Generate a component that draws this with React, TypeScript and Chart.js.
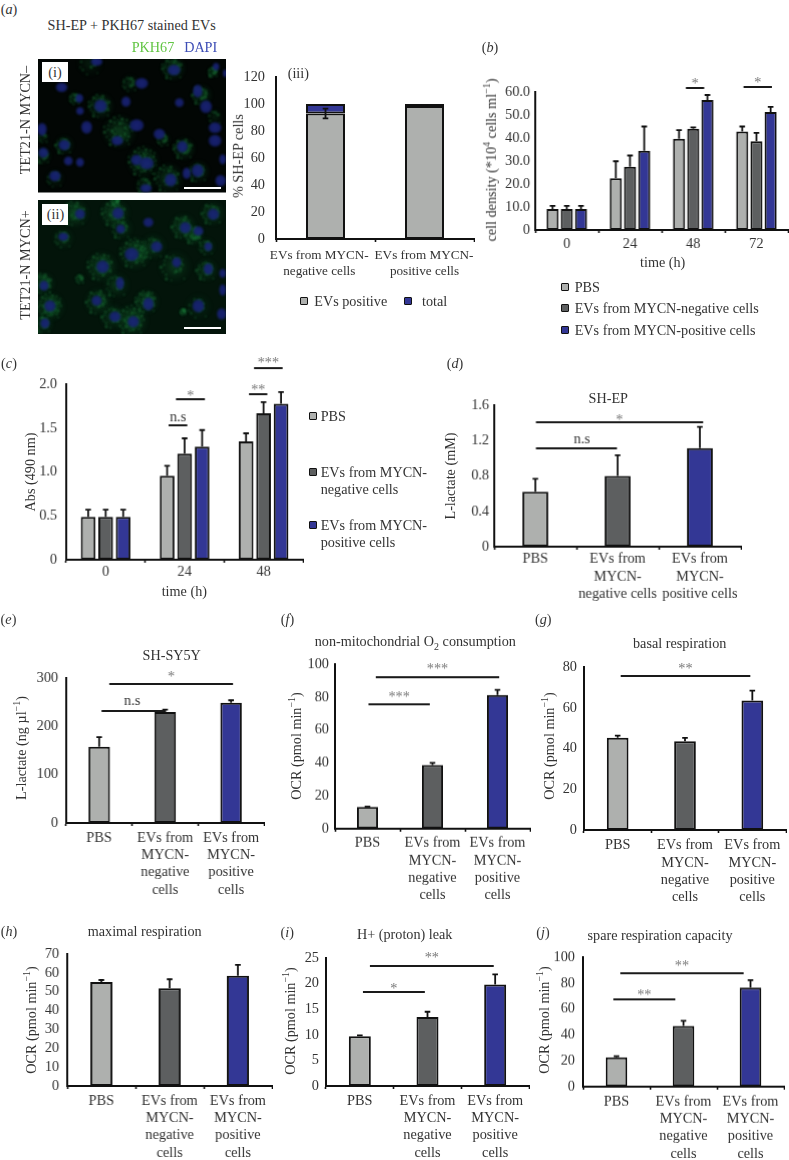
import React, { useEffect, useRef } from "react";
import { Chart, registerables } from "chart.js";

Chart.register(...registerables);

const FONT = "'Liberation Serif', serif";
const INK = "#333";
const LIGHT = "#aeb0ae";
const DARK = "#5d5f60";
const BLUE = "#333795";
const STACKED = [["PBS"], ["EVs from", "MYCN-", "negative", "cells"], ["EVs from", "MYCN-", "positive", "cells"]];
const STACKED_D = [["PBS"], ["EVs from", "MYCN-", "negative cells"], ["EVs from", "MYCN-", "positive cells"]];

// panel a(iii)
const aCategories = ["EVs from MYCN-negative cells", "EVs from MYCN-positive cells"];
const aPositive = [93, 98.5];
const aRemainder = [7, 1.5];
const aErrors = [3.6, 0.8];
// panel b
const bCategories = ["0", "24", "48", "72"];
const bPBS = [9.1, 22.5, 39.7, 42.8];
const bNeg = [9.1, 27.5, 44, 38.6];
const bPos = [9.1, 34.5, 56.5, 51.3];
const bPBSErr = [1.4, 7.4, 3.7, 2.2];
const bNegErr = [1.4, 4.9, 0.6, 3.6];
const bPosErr = [1.4, 10.5, 2.2, 2.2];
// panel c
const cCategories = ["0", "24", "48"];
const cPBS = [0.49, 0.958, 1.348];
const cNeg = [0.49, 1.208, 1.67];
const cPos = [0.49, 1.288, 1.776];
const cPBSErr = [0.08, 0.112, 0.092];
const cNegErr = [0.08, 0.175, 0.125];
const cPosErr = [0.08, 0.189, 0.134];
// panels d-j
const dValues = [0.62, 0.8, 1.114];
const dErrors = [0.148, 0.235, 0.241];
const eValues = [157.9, 229.9, 249];
const eErrors = [19.9, 4.8, 5];
const fValues = [13.2, 38.7, 81.3];
const fErrors = [0.3, 1.3, 3.1];
const gValues = [45.3, 43.5, 63.5];
const gErrors = [1, 1.7, 4.9];
const hValues = [55.2, 51.8, 58.5];
const hErrors = [1, 4.8, 5.7];
const iValues = [9.7, 13.5, 19.8];
const iErrors = [0.2, 1, 2];
const jValues = [22.7, 46.9, 76.5];
const jErrors = [0.8, 3.9, 5.7];

type Sig = { from: number; to: number; at: number; text: string; gap: number; labelX?: number };
const bSig: Sig[] = [
  { from: 1.884, to: 2.174, at: 61.8, text: "*", gap: 7.3 },
  { from: 2.796, to: 3.245, at: 62.1, text: "*", gap: 7.3 },
];
const cSig: Sig[] = [
  { from: 0.797, to: 1.034, at: 1.527, text: "n.s", gap: 8.3 },
  { from: 0.89, to: 1.257, at: 1.826, text: "*", gap: 7 },
  { from: 1.815, to: 2.048, at: 1.89, text: "**", gap: 7.3 },
  { from: 1.879, to: 2.242, at: 2.186, text: "***", gap: 8 },
];
const dSig: Sig[] = [
  { from: 0.007, to: 0.992, at: 1.107, text: "n.s", gap: 8.7, labelX: 0.567 },
  { from: 0.007, to: 2.04, at: 1.408, text: "*", gap: 5.3 },
];
const eSig: Sig[] = [
  { from: 0.036, to: 1.007, at: 232, text: "n.s", gap: 9.7, labelX: 0.5 },
  { from: 0.153, to: 2.03, at: 286.9, text: "*", gap: 10.7 },
];
const fSig: Sig[] = [
  { from: 0.015, to: 0.959, at: 75.9, text: "***", gap: 9.7 },
  { from: 0.128, to: 2.026, at: 92, text: "***", gap: 11.3 },
];
const gSig: Sig[] = [{ from: 0.045, to: 1.97, at: 75.4, text: "**", gap: 10.7 }];
const iSig: Sig[] = [
  { from: 0.046, to: 0.961, at: 18.3, text: "*", gap: 6.7 },
  { from: 0.149, to: 1.979, at: 23.5, text: "**", gap: 11 },
];
const jSig: Sig[] = [
  { from: -0.047, to: 0.878, at: 67.5, text: "**", gap: 7.7 },
  { from: 0.057, to: 1.898, at: 87.9, text: "**", gap: 10.3 },
];

const triple = (values: number[], errors: number[]) => [
  { label: "value", data: values, errors, backgroundColor: [LIGHT, DARK, BLUE] },
];
const groups = (p: number[], n: number[], q: number[], pe: number[], ne: number[], qe: number[]) => [
  { label: "PBS", data: p, errors: pe, backgroundColor: LIGHT },
  { label: "EVs from MYCN-negative cells", data: n, errors: ne, backgroundColor: DARK },
  { label: "EVs from MYCN-positive cells", data: q, errors: qe, backgroundColor: BLUE },
];

const panels: any[] = [
  {
    l: 276, t: 77, r: 474, b: 239, max: 120, step: 20, dec: 0, yPad: 11, xPad: 2, noXLabels: true,
    categories: aCategories, stacked: true, bar: 0.394, cat: 1,
    datasets: [
      { label: "EVs positive", data: aPositive, errors: aErrors, both: true, backgroundColor: LIGHT },
      { label: "total", data: aRemainder, backgroundColor: BLUE },
    ],
  },
  {
    l: 535.3, t: 91.7, r: 788, b: 230, max: 60, step: 10, dec: 1, yPad: 5, xPad: 2.4,
    categories: bCategories, bar: 0.85, cat: 0.674, sig: bSig,
    datasets: groups(bPBS, bNeg, bPos, bPBSErr, bNegErr, bPosErr),
  },
  {
    l: 66.3, t: 384.3, r: 302.7, b: 560.3, max: 2, step: 0.5, dec: 1, yPad: 9, xPad: 1,
    categories: cCategories, bar: 0.84, cat: 0.665, sig: cSig,
    datasets: groups(cPBS, cNeg, cPos, cPBSErr, cNegErr, cPosErr),
  },
  {
    l: 494, t: 405, r: 740.7, b: 546.7, max: 1.6, step: 0.4, dec: 1, yPad: 5, xPad: 1,
    categories: STACKED_D, bar: 0.315, cat: 1, sig: dSig, datasets: triple(dValues, dErrors),
  },
  {
    l: 66.3, t: 677.7, r: 264, b: 823.3, max: 300, step: 100, dec: 0, yPad: 8, xPad: 3.4,
    categories: STACKED, bar: 0.326, cat: 1, sig: eSig, datasets: triple(eValues, eErrors),
  },
  {
    l: 335, t: 664.3, r: 530, b: 828.7, max: 100, step: 20, dec: 0, yPad: 6, xPad: 3,
    categories: STACKED, bar: 0.325, cat: 1, sig: fSig, datasets: triple(fValues, fErrors),
  },
  {
    l: 584, t: 667.3, r: 786, b: 830.3, max: 80, step: 20, dec: 0, yPad: 7, xPad: 3.8,
    categories: STACKED, bar: 0.322, cat: 1, sig: gSig, datasets: triple(gValues, gErrors),
  },
  {
    l: 67.3, t: 954.3, r: 271.7, b: 1086.3, max: 70, step: 10, dec: 0, yPad: 8, xPad: 3.4,
    categories: STACKED, bar: 0.325, cat: 1, datasets: triple(hValues, hErrors),
  },
  {
    l: 326, t: 958.3, r: 529.3, b: 1086.3, max: 25, step: 5, dec: 0, yPad: 7, xPad: 3.4,
    categories: STACKED, bar: 0.325, cat: 1, sig: iSig, datasets: triple(iValues, iErrors),
  },
  {
    l: 583.3, t: 957.3, r: 784.3, b: 1086.7, max: 100, step: 20, dec: 0, yPad: 8, xPad: 3.4,
    categories: STACKED, bar: 0.323, cat: 1, sig: jSig, datasets: triple(jValues, jErrors),
  },
];

const LEFT_GUTTER = 60;
const TOP_PAD = 40;
const BOTTOM_GUTTER = 84;
const RIGHT_PAD = 1;

const marksPlugin = {
  id: "marks",
  afterDatasetsDraw(chart: any) {
    const { ctx, scales } = chart;
    const y = scales.y;
    const x = scales.x;
    ctx.save();
    ctx.strokeStyle = "#111";
    ctx.lineWidth = 1.8;
    chart.data.datasets.forEach((ds: any, di: number) => {
      if (!ds.errors) return;
      const meta = chart.getDatasetMeta(di);
      meta.data.forEach((bar: any, i: number) => {
        const hi = y.getPixelForValue(ds.data[i] + ds.errors[i]);
        const lo = ds.both ? y.getPixelForValue(ds.data[i] - ds.errors[i]) : bar.y;
        ctx.beginPath();
        ctx.moveTo(bar.x, lo);
        ctx.lineTo(bar.x, hi);
        ctx.moveTo(bar.x - 2.8, hi);
        ctx.lineTo(bar.x + 2.8, hi);
        if (ds.both) {
          ctx.moveTo(bar.x - 2.8, lo);
          ctx.lineTo(bar.x + 2.8, lo);
        }
        ctx.stroke();
      });
    });
    const sig: Sig[] = chart.options.plugins.marks.sig || [];
    sig.forEach((s) => {
      const py = y.getPixelForValue(s.at);
      const snapped = Math.round(py);
      ctx.strokeStyle = "#1a1a1a";
      ctx.lineWidth = 2;
      ctx.beginPath();
      ctx.moveTo(x.getPixelForValue(s.from), snapped);
      ctx.lineTo(x.getPixelForValue(s.to), snapped);
      ctx.stroke();
      const star = s.text.includes("*");
      ctx.font = `14.3px ${FONT}`;
      ctx.fillStyle = star ? "#777" : INK;
      ctx.textAlign = "center";
      ctx.textBaseline = "alphabetic";
      const cx = x.getPixelForValue(s.labelX ?? (s.from + s.to) / 2);
      ctx.fillText(s.text, cx, py - s.gap + (star ? 7.5 : 3.5));
    });
    ctx.restore();
  },
};

function makeChart(canvas: HTMLCanvasElement, p: any) {
  return new Chart(canvas, {
    type: "bar",
    data: {
      labels: p.categories,
      datasets: p.datasets.map((d: any) => ({
        ...d,
        borderColor: "#111",
        borderWidth: 2,
        borderSkipped: false,
        barPercentage: p.bar,
        categoryPercentage: p.cat,
      })),
    },
    options: {
      animation: false,
      responsive: false,
      maintainAspectRatio: false,
      events: [],
      layout: { padding: { top: TOP_PAD, right: RIGHT_PAD, left: 0, bottom: 0 } },
      plugins: { legend: { display: false }, tooltip: { enabled: false }, marks: { sig: p.sig } },
      scales: {
        x: {
          stacked: !!p.stacked,
          afterFit: (s: any) => { s.height = BOTTOM_GUTTER; },
          border: { display: true, color: "#111", width: 2, z: 1 },
          grid: { display: true, drawOnChartArea: false, drawTicks: true, tickLength: 3, tickWidth: 1.6, tickColor: "#111", offset: true },
          ticks: {
            display: !p.noXLabels,
            autoSkip: false,
            maxRotation: 0,
            minRotation: 0,
            padding: p.xPad,
            color: INK,
            font: { family: FONT, size: 14.3, lineHeight: 1.21 },
          },
        },
        y: {
          stacked: !!p.stacked,
          min: 0,
          max: p.max,
          afterFit: (s: any) => { s.width = LEFT_GUTTER; },
          border: { display: true, color: "#111", width: 2, z: 1 },
          grid: { display: false, drawTicks: false },
          ticks: {
            autoSkip: false,
            stepSize: p.step,
            padding: p.yPad,
            color: INK,
            font: { family: FONT, size: 14.3 },
            callback: (v: any) => (Number(v) === 0 ? "0" : Number(v).toFixed(p.dec)),
          },
        },
      },
    } as any,
    plugins: [marksPlugin],
  });
}

// ----- micrographs (illustrative picture, coordinates in a 3x working grid) -----
const nucleiI = [[95,112,18,14],[200,35,18,12],[335,100,20,16],[432,60,20,16],[503,123,14,20],[528,170,18,20],[448,158,14,14],[212,168,20,20],[288,155,14,16],[148,145,12,14],[150,183,12,12],[170,232,16,20],[320,226,22,18],[36,238,14,20],[103,285,18,16],[262,272,18,14],[388,252,18,16],[457,290,16,18],[555,233,20,16],[555,272,20,18],[40,308,16,16],[115,333,14,14],[150,337,12,14],[320,330,18,16],[350,340,22,18],[578,328,10,16],[75,378,18,16],[470,370,12,18],[503,362,18,20],[422,390,18,20],[572,392,16,18],[348,415,18,12],[585,70,6,12],[558,50,10,12]];
const haloI = [[430,55,32,1],[550,65,16,1.2],[300,100,24,.6],[515,135,28,.9],[212,168,34,1.1],[135,145,18,.8],[268,245,44,1.1],[103,285,26,.8],[400,268,20,.7],[462,296,30,1.1],[340,335,42,1.3],[40,318,22,.8],[40,262,16,.5],[415,385,40,.9],[505,365,30,.8],[345,405,26,.7],[75,385,26,.5],[180,40,34,.4],[555,200,22,.4]];
const nucleiII = [[150,492,16,16],[264,490,18,18],[355,517,16,14],[272,537,14,14],[466,533,18,18],[505,543,16,14],[550,493,18,18],[100,560,16,12],[380,590,18,16],[305,613,22,20],[535,590,12,14],[218,650,20,20],[440,637,14,16],[535,657,14,18],[270,700,12,20],[42,707,14,16],[578,720,10,18],[200,752,16,16],[355,762,16,20],[60,768,18,18],[505,768,18,20],[575,792,14,18],[255,800,18,16],[310,815,18,18],[45,820,14,16],[578,670,10,14]];
const haloII = [[135,490,36,1],[255,490,38,1],[275,535,30,.6],[460,530,34,.9],[492,555,26,1.4],[548,490,32,.8],[100,565,28,.6],[370,590,34,.7],[315,610,42,1.1],[530,590,24,.6],[215,650,40,1],[435,650,42,.6],[530,660,30,.8],[260,705,34,.6],[40,700,30,1.2],[150,686,14,.7],[60,770,38,1.3],[205,755,36,.8],[350,755,32,1.3],[305,812,42,1.2],[250,800,34,.7],[40,822,26,.8],[505,770,34,.4],[460,785,10,1.2],[258,452,14,1.3]];

function drawMicro(ctx: CanvasRenderingContext2D, box: number[], haze: string, halos: number[][], nuclei: number[][], glow: number) {
  const [x0, y0, x1, y1] = box;
  ctx.save();
  ctx.beginPath();
  ctx.rect(x0, y0, x1 - x0, y1 - y0);
  ctx.clip();
  ctx.fillStyle = haze;
  ctx.fillRect(x0, y0, x1 - x0, y1 - y0);
  ctx.filter = "blur(1px)";
  halos.forEach(([x, y, r, k]) => {
    const g = ctx.createRadialGradient(x, y, r * 0.2, x, y, r * 1.3);
    g.addColorStop(0, `rgba(24,120,55,${glow * Math.min(k, 1)})`);
    g.addColorStop(1, "rgba(8,50,25,0)");
    ctx.fillStyle = g;
    ctx.beginPath();
    ctx.arc(x, y, r * 1.3, 0, 7);
    ctx.fill();
    const n = Math.round(r * 0.8 * k);
    for (let i = 1; i <= n; i++) {
      const a = i * 2.39996;
      const d = r * (0.35 + 0.8 * ((i * 7) % 11) / 11);
      ctx.fillStyle = i % 3 ? "rgba(32,135,65,0.65)" : "rgba(55,185,95,0.7)";
      ctx.beginPath();
      ctx.arc(x + Math.cos(a) * d, y + Math.sin(a) * d, 1.8 + (i % 3), 0, 7);
      ctx.fill();
    }
  });
  nuclei.forEach(([x, y, rx, ry]) => {
    const g = ctx.createRadialGradient(x, y, 0, x, y, Math.max(rx, ry));
    g.addColorStop(0, "rgba(26,36,122,0.92)");
    g.addColorStop(0.8, "rgba(22,32,110,0.88)");
    g.addColorStop(1, "rgba(18,28,90,0.5)");
    ctx.fillStyle = g;
    ctx.beginPath();
    ctx.ellipse(x, y, rx, ry, 0, 0, 7);
    ctx.fill();
  });
  ctx.restore();
}

function Micro() {
  const ref = useRef<HTMLCanvasElement>(null);
  useEffect(() => {
    const c = ref.current!;
    const ctx = c.getContext("2d")!;
    ctx.setTransform(1 / 3, 0, 0, 1 / 3, 0, 0);
    drawMicro(ctx, [24, 27, 588, 428], "#020604", haloI, nucleiI, 0.4);
    drawMicro(ctx, [24, 450, 588, 852], "#03140a", haloII, nucleiII, 0.5);
  }, []);
  return <canvas ref={ref} width={200} height={290} style={{ position: "absolute", left: 30, top: 50, width: 200, height: 290 }} />;
}

function Panel({ p }: { p: any }) {
  const ref = useRef<HTMLCanvasElement>(null);
  const left = p.l - LEFT_GUTTER;
  const top = p.t - TOP_PAD;
  const width = p.r - p.l + LEFT_GUTTER + RIGHT_PAD;
  const height = TOP_PAD + (p.b - p.t) + BOTTOM_GUTTER;
  useEffect(() => {
    const chart = makeChart(ref.current!, p);
    return () => chart.destroy();
  }, []);
  return <canvas ref={ref} width={width} height={height} style={{ position: "absolute", left, top, width, height }} />;
}

function T({ x, y, children, size = 14.2, color = INK, rot = false, italic = false, left = false }: any) {
  return (
    <div
      style={{
        position: "absolute",
        left: x,
        top: y,
        transform: `translate(${left ? "0" : "-50%"},-50%)${rot ? " rotate(-90deg)" : ""}`,
        fontSize: size,
        color,
        fontStyle: italic ? "italic" : "normal",
        whiteSpace: "nowrap",
        lineHeight: 1,
      }}
    >
      {children}
    </div>
  );
}

const Letter = ({ x, y, c }: any) => (
  <T x={x} y={y}>
    (<i>{c}</i>)
  </T>
);
const Sw = ({ x, y, c, w = 8 }: any) => (
  <div style={{ position: "absolute", left: x, top: y - w / 2, width: w, height: w, boxSizing: "border-box", background: c, border: "1.6px solid #111", borderRadius: 1 }} />
);
const Sup = ({ children }: any) => <sup style={{ fontSize: "0.7em", lineHeight: 0 }}>{children}</sup>;
const Sub = ({ children }: any) => <sub style={{ fontSize: "0.7em", lineHeight: 0 }}>{children}</sub>;
const OCR = () => (<>OCR (pmol min<Sup>−1</Sup>)</>);

export default function App() {
  return (
    <div style={{ position: "absolute", left: 0, top: 0, width: 789, height: 1160, overflow: "hidden", background: "#fff", fontFamily: FONT }}>
      <Micro />
      <div style={{ position: "absolute", left: 42, top: 62.3, width: 26, height: 19.7, background: "#fff" }} />
      <div style={{ position: "absolute", left: 42, top: 204, width: 26, height: 20.7, background: "#fff" }} />
      <div style={{ position: "absolute", left: 184, top: 186.7, width: 37, height: 2, background: "#fff" }} />
      <div style={{ position: "absolute", left: 184, top: 326.7, width: 37, height: 2, background: "#fff" }} />
      <T x={55} y={71.7}>(i)</T>
      <T x={55.5} y={214}>(ii)</T>

      {panels.map((p, i) => (<Panel key={i} p={p} />))}

      <Letter x={9} y={9} c="a" />
      <Letter x={490} y={47.3} c="b" />
      <Letter x={9} y={363} c="c" />
      <Letter x={455} y={363} c="d" />
      <Letter x={8.5} y={619} c="e" />
      <Letter x={287.5} y={619.3} c="f" />
      <Letter x={543.3} y={619.3} c="g" />
      <Letter x={9} y={930.7} c="h" />
      <Letter x={287.3} y={931.7} c="i" />
      <Letter x={543} y={931.7} c="j" />

      <T x={131.7} y={25.3}>SH-EP + PKH67 stained EVs</T>
      <T x={153} y={46.7} color="#62c544">PKH67</T>
      <T x={200.7} y={46.7} color="#3d4db5">DAPI</T>
      <T x={24.7} y={120.3} rot>TET21-N MYCN–</T>
      <T x={24.7} y={265} rot>TET21-N MYCN+</T>
      <T x={298.3} y={72.7}>(iii)</T>
      <T x={238} y={156} rot>% SH-EP cells</T>
      <T x={319.3} y={255} size={13.2}>EVs from MYCN-</T>
      <T x={319.3} y={271} size={13.2}>negative cells</T>
      <T x={424} y={255} size={13.2}>EVs from MYCN-</T>
      <T x={424.5} y={271} size={13.2}>positive cells</T>
      <Sw x={300} y={301} c={LIGHT} />
      <T x={314.3} y={301} left>EVs positive</T>
      <Sw x={404} y={301} c={BLUE} />
      <T x={422} y={301} left>total</T>

      <T x={490.7} y={160} rot>cell density (*10<Sup>4</Sup> cells ml<Sup>−1</Sup>)</T>
      <T x={662.7} y={261.7}>time (h)</T>
      <Sw x={561} y={287} c={LIGHT} />
      <T x={574.7} y={287} left>PBS</T>
      <Sw x={561} y={308} c={DARK} />
      <T x={574.7} y={308} left>EVs from MYCN-negative cells</T>
      <Sw x={561} y={330} c={BLUE} />
      <T x={574.7} y={330} left>EVs from MYCN-positive cells</T>

      <T x={30} y={471.7} rot>Abs (490 nm)</T>
      <T x={184.3} y={590.7}>time (h)</T>
      <Sw x={309} y={415.7} c={LIGHT} />
      <T x={320.7} y={415.7} left>PBS</T>
      <Sw x={309} y={471.7} c={DARK} />
      <T x={320.7} y={471.7} left>EVs from MYCN-</T>
      <T x={320.7} y={488.7} left>negative cells</T>
      <Sw x={309} y={525} c={BLUE} />
      <T x={320.7} y={525} left>EVs from MYCN-</T>
      <T x={320.7} y={542} left>positive cells</T>

      <T x={608.3} y={397.7}>SH-EP</T>
      <T x={450} y={475.8} rot>L-lactate (mM)</T>

      <T x={171.7} y={655}>SH-SY5Y</T>
      <T x={20.7} y={748} rot>L-lactate (ng µl<Sup>−1</Sup>)</T>

      <T x={415.3} y={641}>non-mitochondrial O<Sub>2</Sub> consumption</T>
      <T x={296} y={745.5} rot><OCR /></T>

      <T x={679.7} y={643.3}>basal respiration</T>
      <T x={549.3} y={745.5} rot><OCR /></T>

      <T x={144.7} y={930.7}>maximal respiration</T>
      <T x={30.7} y={1020.3} rot><OCR /></T>

      <T x={404.7} y={934.3}>H+ (proton) leak</T>
      <T x={290} y={1020.8} rot><OCR /></T>

      <T x={660} y={935.3}>spare respiration capacity</T>
      <T x={544} y={1020.3} rot><OCR /></T>
    </div>
  );
}
